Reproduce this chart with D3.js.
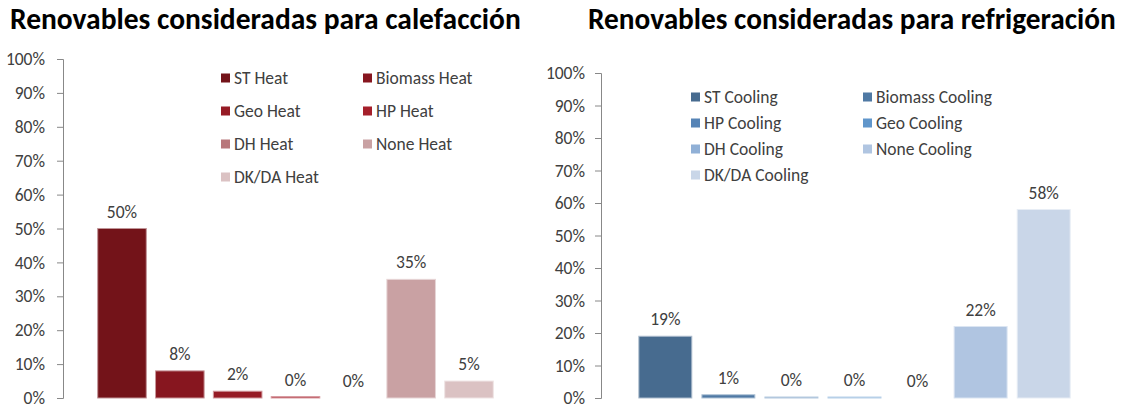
<!DOCTYPE html>
<html>
<head>
<meta charset="utf-8">
<script src="https://cdn.jsdelivr.net/npm/d3@7"></script>
<style>
  body { margin: 0; background: #fff; }
  svg { display: block; }
</style>
</head>
<body>
<div id="chart"></div>
<script>
// Data
const heatSeries = ['ST Heat', 'Biomass Heat', 'Geo Heat', 'HP Heat', 'DH Heat', 'None Heat', 'DK/DA Heat'];
const heatValues = [0.50, 0.08, 0.02, 0.004, 0, 0.35, 0.05];
const coolSeries = ['ST Cooling', 'Biomass Cooling', 'HP Cooling', 'Geo Cooling', 'DH Cooling', 'None Cooling', 'DK/DA Cooling'];
const coolValues = [0.19, 0.01, 0.003, 0.003, 0, 0.22, 0.58];
const yTickValues = [0, 0.1, 0.2, 0.3, 0.4, 0.5, 0.6, 0.7, 0.8, 0.9, 1.0];

const heatPalette = ['#731319', '#87161f', '#961b25', '#a51f2a', '#b8777b', '#c9a1a3', '#dbc2c3'];
const coolPalette = ['#476b8f', '#4f79a4', '#5684b6', '#6096cb', '#90b0d6', '#b0c5e1', '#c9d6e8'];

const width = 1126, height = 406;
const font = 'Carlito, Lato, sans-serif';
const textColor = '#404040';
const fontSize = 17.5;
const pct = d3.format('.0%');

const svg = d3.select('#chart').append('svg')
  .attr('width', width)
  .attr('height', height)
  .attr('font-family', font);

function fitText(sel, target) {
  const w = sel.node().getComputedTextLength();
  const fs = parseFloat(sel.attr('font-size'));
  sel.attr('font-size', fs * target / w);
}

function drawPanel(opts) {
  const { title, titleX, titleW, series, values, palette, axisX, top, bottom, right, tickPad, legend } = opts;
  const g = svg.append('g');

  // title
  const t = g.append('text')
    .attr('x', titleX).attr('y', 29)
    .attr('font-size', 26).attr('font-weight', 'bold')
    .attr('fill', '#000')
    .text(title);
  fitText(t, titleW);

  const y = d3.scaleLinear().domain([0, 1]).range([bottom, top]);
  const x = d3.scaleBand().domain(series).range([axisX, right])
    .paddingInner(0.16).paddingOuter(0.6);

  // y axis
  const axis = g.append('g')
    .attr('transform', `translate(${axisX},0)`)
    .call(d3.axisLeft(y).tickValues(yTickValues).tickFormat(pct).tickSize(6).tickPadding(tickPad));
  axis.select('.domain').attr('stroke', '#888').attr('d', `M-6,${top}.5H0.5V${bottom}.5H-6`);
  axis.selectAll('.tick line').attr('stroke', '#888');
  axis.selectAll('.tick text')
    .attr('font-family', font).attr('font-size', fontSize).attr('fill', textColor);

  // bars
  const data = series.map((s, i) => ({ s, v: values[i], c: palette[i] }));
  g.selectAll('rect.bar').data(data).join('rect')
    .attr('class', 'bar')
    .attr('x', d => x(d.s))
    .attr('width', x.bandwidth())
    .attr('y', d => y(d.v))
    .attr('height', d => y(0) - y(d.v))
    .attr('fill', d => d.c)
    .attr('stroke', d => d3.interpolateRgb(d.c, '#fff')(0.55))
    .attr('stroke-width', d => d.v > 0 ? 1 : 0);

  // data labels
  g.selectAll('text.lbl').data(data).join('text')
    .attr('class', 'lbl')
    .attr('x', d => x(d.s) + x.bandwidth() / 2)
    .attr('y', d => y(d.v) - 11)
    .attr('text-anchor', 'middle')
    .attr('font-size', fontSize)
    .attr('fill', textColor)
    .text(d => pct(d.v));

  // legend (2 columns, row-wise)
  const lg = g.selectAll('g.leg').data(data).join('g')
    .attr('class', 'leg')
    .attr('transform', (d, i) => `translate(${legend.x + (i % 2) * legend.colW},${legend.y + Math.floor(i / 2) * legend.rowH})`);
  lg.append('rect')
    .attr('x', 0).attr('y', -4.5).attr('width', 9).attr('height', 9)
    .attr('fill', d => d.c);
  lg.append('text')
    .attr('x', 13).attr('y', 0).attr('dy', '0.35em')
    .attr('font-size', fontSize).attr('fill', textColor)
    .text(d => d.s);
}

drawPanel({
  title: 'Renovables consideradas para calefacción',
  titleX: 10, titleW: 511,
  series: heatSeries, values: heatValues, palette: heatPalette,
  axisX: 63, top: 59, bottom: 398, right: 528, tickPad: 12,
  legend: { x: 221, y: 78, colW: 142, rowH: 33 }
});

drawPanel({
  title: 'Renovables consideradas para refrigeración',
  titleX: 588, titleW: 528,
  series: coolSeries, values: coolValues, palette: coolPalette,
  axisX: 601, top: 73, bottom: 398, right: 1108, tickPad: 10,
  legend: { x: 691, y: 97, colW: 172, rowH: 26 }
});
</script>
</body>
</html>
